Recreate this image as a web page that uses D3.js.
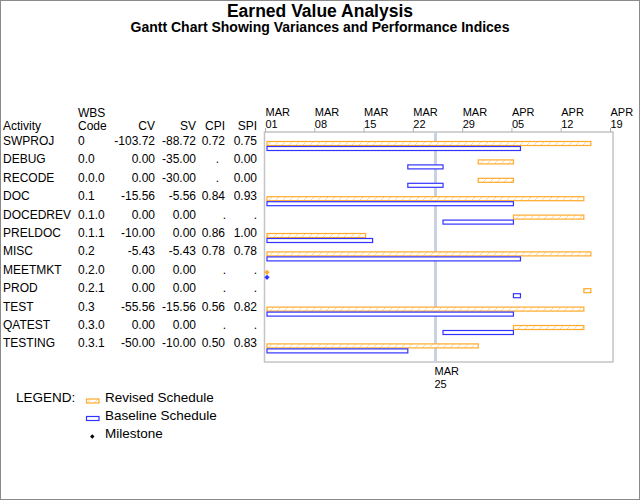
<!DOCTYPE html>
<html>
<head>
<meta charset="utf-8">
<script src="https://cdn.jsdelivr.net/npm/d3@7"></script>
<style>
  body { margin: 0; background: #fff; }
  text { font-family: "Liberation Sans", Arial, sans-serif; fill: #000; }
</style>
</head>
<body>
<div id="chart"></div>
<script>
const activities = ["SWPROJ","DEBUG","RECODE","DOC","DOCEDREV","PRELDOC","MISC","MEETMKT","PROD","TEST","QATEST","TESTING"];
const wbsCodes = ["0","0.0","0.0.0","0.1","0.1.0","0.1.1","0.2","0.2.0","0.2.1","0.3","0.3.0","0.3.1"];
const cv  = [-103.72, 0, 0, -15.56, 0, -10, -5.43, 0, 0, -55.56, 0, -50];
const sv  = [-88.72, -35, -30, -5.56, 0, 0, -5.43, 0, 0, -15.56, 0, -10];
const cpi = [0.72, null, null, 0.84, null, 0.86, 0.78, null, null, 0.56, null, 0.50];
const spi = [0.75, 0, 0, 0.93, null, 1.00, 0.78, null, null, 0.82, null, 0.83];

// bar edges (end exclusive); start == end -> milestone
const revisedStart  = ["2004-03-01","2004-03-31","2004-03-31","2004-03-01","2004-04-05","2004-03-01","2004-03-01","2004-03-01","2004-04-15","2004-03-01","2004-04-05","2004-03-01"];
const revisedEnd    = ["2004-04-16","2004-04-05","2004-04-05","2004-04-15","2004-04-15","2004-03-15","2004-04-16","2004-03-01","2004-04-16","2004-04-15","2004-04-15","2004-03-31"];
const baselineStart = ["2004-03-01","2004-03-21","2004-03-21","2004-03-01","2004-03-26","2004-03-01","2004-03-01","2004-03-01","2004-04-05","2004-03-01","2004-03-26","2004-03-01"];
const baselineEnd   = ["2004-04-06","2004-03-26","2004-03-26","2004-04-05","2004-04-05","2004-03-16","2004-04-06","2004-03-01","2004-04-06","2004-04-05","2004-04-05","2004-03-21"];

const tickDates = ["2004-03-01","2004-03-08","2004-03-15","2004-03-22","2004-03-29","2004-04-05","2004-04-12","2004-04-19"];
const refDate = "2004-03-25";

const parse = d3.utcParse("%Y-%m-%d");
const fmt = d3.formatLocale({decimal: ".", thousands: ",", grouping: [3], currency: ["$", ""], minus: "-"}).format(".2f");

const W = 640, H = 500;
const orange = "#ffaa2a", blue = "#3333ff";

const svg = d3.select("#chart").append("svg")
    .attr("width", W).attr("height", H);

// hatch for revised bars
const pat = svg.append("defs").append("pattern")
    .attr("id", "hatch")
    .attr("patternUnits", "userSpaceOnUse")
    .attr("width", 7).attr("height", 7);
pat.append("rect").attr("width", 7).attr("height", 7).attr("fill", "#fff");
pat.append("path").attr("d", "M0,7 L7,0 M-2,2 L2,-2 M5,9 L9,5")
    .attr("stroke", "#ffd08a").attr("stroke-width", 0.9);

svg.append("rect")
    .attr("x", 0.5).attr("y", 0.5).attr("width", W - 1).attr("height", H - 1)
    .attr("fill", "none").attr("stroke", "#8a8a8a");

// titles
svg.append("text").attr("x", 320).attr("y", 17).attr("text-anchor", "middle")
    .attr("font-size", "17.5px").attr("font-weight", "bold").text("Earned Value Analysis");
svg.append("text").attr("x", 320).attr("y", 32).attr("text-anchor", "middle")
    .attr("font-size", "14px").attr("font-weight", "bold")
    .text("Gantt Chart Showing Variances and Performance Indices");

const x = d3.scaleUtc()
    .domain([parse(tickDates[0]), parse(tickDates[tickDates.length - 1])])
    .range([265, 610]);
const y = d3.scalePoint()
    .domain(activities)
    .range([146, 146 + 18.4 * (activities.length - 1)]);

const frameTop = 132, frameBottom = 362;
const bx = d => x(parse(d)) + 2;

// frame
svg.append("rect")
    .attr("x", x.range()[0] - 0.5).attr("y", frameTop)
    .attr("width", x.range()[1] + 3 - x.range()[0] + 0.5).attr("height", frameBottom - frameTop)
    .attr("fill", "none").attr("stroke", "#c4c4c4").attr("stroke-width", 1.5);

// date axis on top
const axis = svg.append("g")
    .attr("transform", `translate(0,${frameTop})`)
    .call(d3.axisTop(x).tickValues(tickDates.map(parse)).tickSize(4).tickFormat(""));
axis.select(".domain").remove();
axis.selectAll(".tick line").attr("stroke", "#b0b0b0");
axis.selectAll(".tick").append("text")
    .attr("x", 0).attr("y", -16.5).attr("text-anchor", "start")
    .attr("font-size", "11px").attr("fill", "#000")
    .text(d => d3.utcFormat("%b")(d).toUpperCase());
axis.selectAll(".tick").append("text")
    .attr("x", 0).attr("y", -4.5).attr("text-anchor", "start")
    .attr("font-size", "11px").attr("fill", "#000")
    .text(d => d3.utcFormat("%d")(d));

// reference line
const rx = x(parse(refDate)) + 1.5;
svg.append("line")
    .attr("x1", rx).attr("x2", rx).attr("y1", frameTop).attr("y2", frameBottom)
    .attr("stroke", "#c9d1e4").attr("stroke-width", 3);
svg.append("text").attr("x", rx - 1).attr("y", 375).attr("font-size", "11px")
    .text(d3.utcFormat("%b")(parse(refDate)).toUpperCase());
svg.append("text").attr("x", rx - 1).attr("y", 388).attr("font-size", "11px")
    .text(d3.utcFormat("%d")(parse(refDate)));

// table headers
const hdr = svg.append("g").attr("font-size", "12px");
hdr.append("text").attr("x", 78).attr("y", 116.5).text("WBS");
hdr.append("text").attr("x", 78).attr("y", 129.5).text("Code");
hdr.append("text").attr("x", 3).attr("y", 129.5).text("Activity");
const cols = [{name: "CV", r: 155}, {name: "SV", r: 196}, {name: "CPI", r: 225}, {name: "SPI", r: 257}];
cols.forEach(c => hdr.append("text").attr("x", c.r).attr("y", 129.5)
    .attr("text-anchor", "end").text(c.name));

// table rows
const rows = svg.append("g").attr("font-size", "12px")
    .selectAll("g").data(activities).enter().append("g")
    .attr("transform", d => `translate(0,${y(d) - 1})`);
rows.append("text").attr("x", 3).text(d => d);
rows.append("text").attr("x", 78).text((d, i) => wbsCodes[i]);
rows.append("text").attr("x", 155).attr("text-anchor", "end").text((d, i) => fmt(cv[i]));
rows.append("text").attr("x", 196).attr("text-anchor", "end").text((d, i) => fmt(sv[i]));
rows.append("text")
    .attr("x", (d, i) => cpi[i] == null ? (spi[i] == null ? 226 : 219) : 225)
    .attr("text-anchor", "end").text((d, i) => cpi[i] == null ? "." : fmt(cpi[i]));
rows.append("text")
    .attr("x", 257)
    .attr("text-anchor", "end").text((d, i) => spi[i] == null ? "." : fmt(spi[i]));

// bars
const diamond = (cx, cy, r) => `M${cx},${cy - r}L${cx + r},${cy}L${cx},${cy + r}L${cx - r},${cy}Z`;

function drawSchedule(starts, ends, dy, fill, stroke) {
    const g = svg.append("g");
    activities.forEach((a, i) => {
        const s = starts[i], e = ends[i];
        if (s === e) {
            g.append("path")
                .attr("d", diamond(bx(s), y(a) + (dy < 0 ? -2.5 : 2.5), 2.6))
                .attr("fill", stroke);
        } else {
            g.append("rect")
                .attr("x", bx(s)).attr("y", y(a) + dy)
                .attr("width", bx(e) - bx(s)).attr("height", 4)
                .attr("fill", fill).attr("stroke", stroke).attr("stroke-width", 1.2);
        }
    });
}
drawSchedule(revisedStart, revisedEnd, -4.5, "url(#hatch)", orange);
drawSchedule(baselineStart, baselineEnd, 0.5, "#fff", blue);

// legend
const lg = svg.append("g").attr("font-size", "13.5px");
lg.append("text").attr("x", 16).attr("y", 402.3).text("LEGEND:");
lg.append("rect").attr("x", 86.5).attr("y", 399).attr("width", 12.5).attr("height", 4)
    .attr("fill", "url(#hatch)").attr("stroke", orange).attr("stroke-width", 1.2);
lg.append("text").attr("x", 105).attr("y", 402.3).text("Revised Schedule");
lg.append("rect").attr("x", 86.5).attr("y", 416.5).attr("width", 12.5).attr("height", 4)
    .attr("fill", "#fff").attr("stroke", blue).attr("stroke-width", 1.2);
lg.append("text").attr("x", 105).attr("y", 420).text("Baseline Schedule");
lg.append("path").attr("d", diamond(92.3, 436.5, 2.2)).attr("fill", "#000");
lg.append("text").attr("x", 105).attr("y", 438).text("Milestone");
</script>
</body>
</html>
